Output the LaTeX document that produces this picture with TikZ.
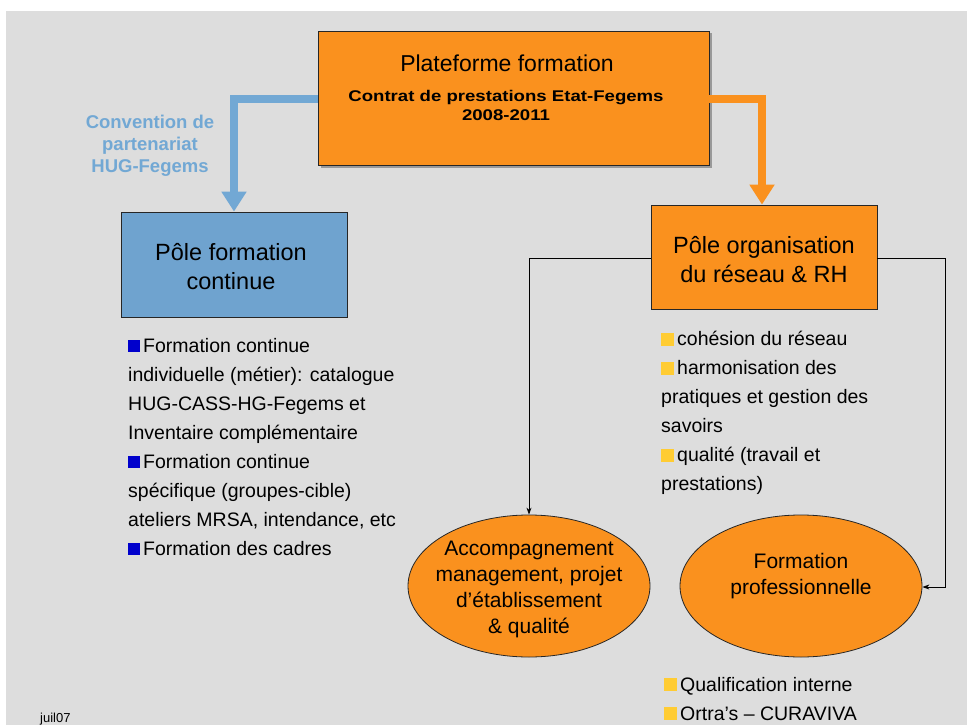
\documentclass[tikz,border=0pt]{standalone}
\usepackage{fontspec}
\setmainfont{Liberation Sans}
\newfontfamily\widefont[FakeStretch=1.2]{Liberation Sans}
\usetikzlibrary{arrows.meta,shapes.geometric}
\definecolor{bg}{RGB}{221,221,221}
\definecolor{orangebox}{RGB}{250,145,30}
\definecolor{bluebox}{RGB}{111,163,207}
\definecolor{bluearrow}{RGB}{114,168,212}
\definecolor{bulletblue}{RGB}{0,0,204}
\definecolor{bulletyellow}{RGB}{255,204,51}
\newcommand{\bsq}{\textcolor{bulletblue}{\rule{12pt}{12pt}}\hspace{3pt}}
\newcommand{\ysq}{\textcolor{bulletyellow}{\rule{13pt}{13pt}}\hspace{3pt}}
\tikzset{
  boxstyle/.style={draw=black!85, line width=0.8pt, inner sep=0pt},
  ellstyle/.style={ellipse, draw=black!85, line width=0.8pt, fill=orangebox, inner sep=0pt, minimum width=242pt, minimum height=142pt},
  bigtext/.style={font=\fontsize{23.5}{29}\selectfont, align=center, inner sep=0pt},
  listtext/.style={font=\fontsize{19.5}{29}\selectfont, align=left, inner sep=0pt, anchor=north west},
  elltext/.style={font=\fontsize{21}{26}\selectfont, align=center, inner sep=0pt},
  fatarrow/.style={line width=8pt, -{Triangle[width=24pt,length=20pt]}},
  thinarrow/.style={line width=0.8pt, -{Stealth[length=7pt,width=5pt]}}
}
\begin{document}
\begin{tikzpicture}[x=1pt,y=-1pt]
\useasboundingbox (0,0) rectangle (967,725);
\fill[bg] (6,11) rectangle (967,725);
% top box
\fill[black!40] (320.5,33.5) rectangle (711.5,167.5);
\node[boxstyle, fill=orangebox, minimum width=391pt, minimum height=134pt] (top) at (513.5,98) {};
\node[font=\fontsize{23}{24}\selectfont, inner sep=0pt, anchor=base] (toptitle) at (507,72) {Plateforme formation};
\node[font=\widefont\bfseries\fontsize{15.5}{19}\selectfont, inner sep=0pt, anchor=base, align=center] (topsub) at (506,102) {Contrat de prestations Etat-Fegems};
\node[font=\widefont\bfseries\fontsize{15.5}{19}\selectfont, inner sep=0pt, anchor=base] (topyear) at (506,121) {2008-2011};
% left and right boxes
\node[boxstyle, fill=bluebox, minimum width=226pt, minimum height=105pt] (left) at (234,264.5) {};
\node[bigtext] (lefttext) at (231,267) {Pôle formation\\continue};
\node[boxstyle, fill=orangebox, minimum width=226pt, minimum height=104pt] (right) at (764,257) {};
\node[bigtext] (righttext) at (764,259.5) {Pôle organisation\\du réseau \& RH};
% fat arrows
\coordinate (bl) at (234,99);
\coordinate (br) at (762,99);
\draw[fatarrow, bluearrow] (top.west |- bl) -- (bl) -- (left.north);
\draw[fatarrow, orangebox] (top.east |- br) -- (br) -- (right.north -| br);
\node[font=\bfseries\fontsize{18.5}{22}\selectfont, text=bluearrow, align=center, inner sep=0pt] (conv) at (150,146) {Convention de\\partenariat\\HUG-Fegems};
% ellipses
\node[ellstyle] (e1) at (529,586) {};
\node[elltext] (e1text) at (529,589) {Accompagnement\\management, projet\\d’établissement\\\& qualité};
\node[ellstyle] (e2) at (801,586) {};
\node[elltext] (e2text) at (801,576) {Formation\\professionnelle};
% thin arrows
\coordinate (tl) at (529,258);
\coordinate (tr) at (945,258);
\coordinate (trb) at (945,587);
\draw[thinarrow] (right.west |- tl) -- (tl) -- (e1.north);
\draw[thinarrow] (right.east |- tr) -- (tr) -- (trb) -- (e2.east |- trb);
% lists
\node[listtext] (leftlist) at (128,338) {\bsq Formation continue\\individuelle (métier): catalogue\\HUG-CASS-HG-Fegems et\\Inventaire complémentaire\\\bsq Formation continue\\spécifique (groupes-cible)\\ateliers MRSA, intendance, etc\\\bsq Formation des cadres};
\node[listtext] (rightlist) at (661,331) {\ysq cohésion du réseau\\\ysq harmonisation des\\pratiques et gestion des\\savoirs\\\ysq qualité (travail et\\prestations)};
\node[listtext] (bottomlist) at (664,677) {\ysq Qualification interne\\\ysq Ortra’s – CURAVIVA};
\node[font=\fontsize{13}{15}\selectfont, inner sep=0pt, anchor=base west] (date) at (40,722) {juil07};
\end{tikzpicture}
\end{document}
